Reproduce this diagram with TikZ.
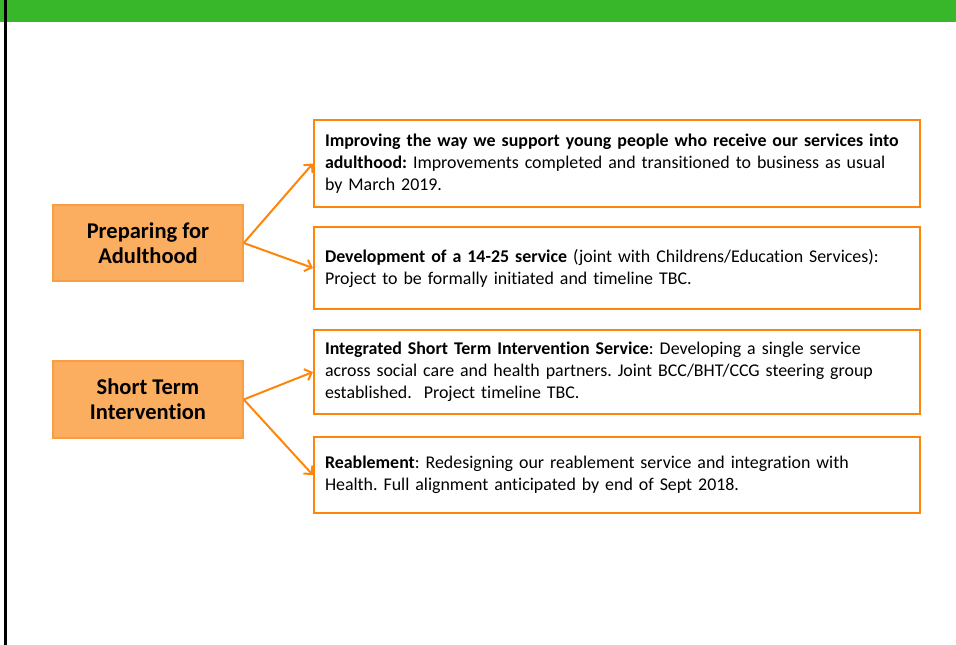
\documentclass[tikz,border=0pt]{standalone}
\usepackage{fontspec}
\setmainfont{Carlito}[Ligatures=NoCommon]
\definecolor{bargreen}{RGB}{56,183,43}
\definecolor{flow}{RGB}{255,133,10}
\definecolor{themefill}{RGB}{251,173,96}
\definecolor{themeline}{RGB}{250,158,68}
\usetikzlibrary{arrows.meta}
\tikzstyle{theme} = [
 rectangle,
 draw=themeline,
 line width=1.5pt,
 fill=themefill,
 align = center,
 font = \fontsize{22.5}{25}\selectfont\bfseries,
 minimum width = 190pt
]
\tikzstyle{project} = [
 rectangle,
 draw=flow,
 line width=2.2pt,
 fill=white,
 align = left,
 font = \fontsize{17.9}{22}\selectfont\frenchspacing,
 text width = 584pt,
 inner xsep = 11pt
]
\tikzstyle{link} = [
 draw=flow,
 line width=2pt,
 -{Straight Barb[length=6pt,width=12pt]}
]

\begin{document}
\begin{tikzpicture}[x=1pt,y=-1pt]
  \useasboundingbox (0,0) rectangle (956,645);
  % title bar and left rule
  \fill[bargreen] (0,0) rectangle (956,22);
  \fill[black] (4,0) rectangle (7,645);

  % themes
  \node [theme, minimum height=76pt] (prep) at (148,243) {Preparing for\\Adulthood};
  \node [theme, minimum height=77pt] (shortterm) at (148,399.5) {Short Term\\Intervention};

  % projects
  \node [project, minimum height=87pt] (adult) at (617,163.5)
    {\textbf{Improving the way we support young people who receive our services into}\\
     \textbf{adulthood:} Improvements completed and transitioned to business as usual\\
     by March 2019.};
  \node [project, minimum height=82pt] (youth) at (617,268)
    {\textbf{Development of a 14-25 service} (joint with Childrens/Education Services):\\
     Project to be formally initiated and timeline TBC.};
  \node [project, minimum height=84pt] (istis) at (617,372)
    {\textbf{Integrated Short Term Intervention Service}: Developing a single service\\
     across social care and health partners. Joint BCC/BHT/CCG steering group\\
     established.\ \ Project timeline TBC.};
  \node [project, minimum height=76pt] (reable) at (617,475)
    {\textbf{Reablement}: Redesigning our reablement service and integration with\\
     Health. Full alignment anticipated by end of Sept 2018.};

  \draw [link] (prep.east) -- (adult.west);
  \draw [link] (prep.east) -- (youth.west);
  \draw [link] (shortterm.east) -- (istis.west);
  \draw [link] (shortterm.east) -- (reable.west);
\end{tikzpicture}
\end{document}
